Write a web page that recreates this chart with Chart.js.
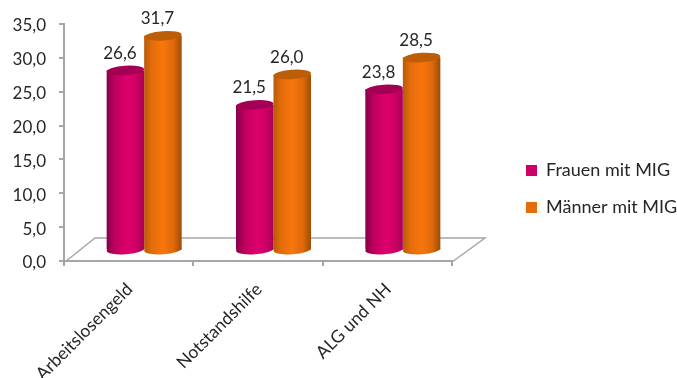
<!DOCTYPE html>
<html>
<head>
<meta charset="utf-8">
<style>
  html, body { margin: 0; padding: 0; background: #fff; overflow: hidden; }
  #box { width: 677px; height: 378px; position: relative; }
</style>
<script src="https://cdn.jsdelivr.net/npm/chart.js@4"></script>
</head>
<body>
<div id="box"><canvas id="chart"></canvas></div>
<script>
const categories = ['Arbeitslosengeld', 'Notstandshilfe', 'ALG und NH'];
const womenValues = [26.6, 21.5, 23.8];
const menValues = [31.7, 26.0, 28.5];
const seriesNames = ['Frauen mit MIG', 'Männer mit MIG'];
const yTicks = [0, 5, 10, 15, 20, 25, 30, 35];

const FONT = 'Lato, "Open Sans", sans-serif';
const TEXT = '#262626';
const AXIS = '#a6a6a6';

// Perspective offset of the columns relative to the axes
const DEPTH_X = 15.5;
const DEPTH_Y = -10.5;
const CAP_RY = 4.7;
const TILT = -0.07;

const germanNumber = v => v.toFixed(1).replace('.', ',');

const pinkStops = [[0, '#85004a'], [0.22, '#bf005f'], [0.55, '#de006c'], [0.8, '#cc0064'], [1, '#a80056']];
const orangeStops = [[0, '#b85a08'], [0.2, '#e46c0a'], [0.5, '#f7760c'], [0.78, '#e0690a'], [1, '#9c4d05']];
const bandStops = [pinkStops, orangeStops];
const capColours = ['#a30055', '#bd5e06'];

function sideGradient(ctx, el, stops) {
  const half = el.width / 2;
  const g = ctx.createLinearGradient(el.x - half, 0, el.x + half, 0);
  stops.forEach(s => g.addColorStop(s[0], s[1]));
  return g;
}

// Shifts the columns onto the floor, shades them and adds the elliptical ends
const cylinders = {
  id: 'cylinders',
  beforeDatasetsDraw(chart) {
    const { ctx } = chart;
    ctx.save();
    ctx.translate(DEPTH_X, DEPTH_Y);
    chart.data.datasets.forEach((ds, i) => {
      chart.getDatasetMeta(i).data.forEach(el => {
        const g = sideGradient(ctx, el, bandStops[i]);
        el.options = { ...el.options, backgroundColor: g };
        ctx.fillStyle = g;
        ctx.beginPath();
        ctx.ellipse(el.x, el.base, el.width / 2, CAP_RY, TILT, 0, Math.PI * 2);
        ctx.fill();
      });
    });
  },
  afterDatasetsDraw(chart) {
    const { ctx } = chart;
    chart.data.datasets.forEach((ds, i) => {
      chart.getDatasetMeta(i).data.forEach((el, j) => {
        ctx.fillStyle = capColours[i];
        ctx.beginPath();
        ctx.ellipse(el.x, el.y, el.width / 2, CAP_RY, TILT, 0, Math.PI * 2);
        ctx.fill();
        ctx.fillStyle = TEXT;
        ctx.font = '17px ' + FONT;
        ctx.textAlign = 'center';
        ctx.textBaseline = 'middle';
        ctx.fillText(germanNumber(ds.data[j]), el.x - 5.5, el.y - 17);
      });
    });
    ctx.restore();
  }
};

// Draws the floor parallelogram behind the columns
const floor = {
  id: 'floor',
  beforeDatasetsDraw(chart) {
    const { ctx, chartArea: a } = chart;
    const dx = 31, dy = -23;
    ctx.save();
    ctx.strokeStyle = AXIS;
    ctx.lineWidth = 1.5;
    ctx.beginPath();
    ctx.moveTo(a.left + 1, a.bottom + 1);
    ctx.lineTo(a.left + dx, a.bottom + dy);
    ctx.lineTo(a.right + dx + 2, a.bottom + dy);
    ctx.lineTo(a.right, a.bottom + 1);
    ctx.stroke();
    ctx.restore();
  }
};

new Chart(document.getElementById('chart'), {
  type: 'bar',
  data: {
    labels: categories,
    datasets: [
      { label: seriesNames[0], data: womenValues, backgroundColor: '#de006c', borderWidth: 0, xAxisID: 'x', yAxisID: 'y' },
      { label: seriesNames[1], data: menValues, backgroundColor: '#f7760c', borderWidth: 0, xAxisID: 'x', yAxisID: 'y' }
    ]
  },
  options: {
    responsive: true,
    maintainAspectRatio: false,
    animation: false,
    layout: { padding: 0 },
    datasets: { bar: { categoryPercentage: 0.58, barPercentage: 1 } },
    plugins: {
      tooltip: { enabled: false },
      legend: {
        position: 'right',
        maxWidth: 170,
        labels: {
          boxWidth: 11,
          boxHeight: 11,
          padding: 19,
          color: TEXT,
          font: { family: FONT, size: 18 },
          generateLabels() {
            return seriesNames.map((name, i) => ({
              text: name,
              fillStyle: i === 0 ? '#cc0066' : '#e46c0a',
              strokeStyle: 'transparent',
              lineWidth: 0,
              datasetIndex: i,
              fontColor: TEXT
            }));
          }
        }
      }
    },
    scales: {
      x: {
        offset: true,
        border: { color: AXIS, width: 2 },
        grid: { drawOnChartArea: false, color: AXIS, lineWidth: 2, tickLength: 5, offset: true },
        ticks: {
          color: TEXT,
          font: { family: FONT, size: 17.5 },
          minRotation: 45,
          maxRotation: 45,
          padding: 13,
          labelOffset: 1,
          autoSkip: false
        },
        afterFit(scale) { scale.height = 117; }
      },
      y: {
        min: 0,
        max: 35,
        border: { color: AXIS, width: 2 },
        grid: { drawOnChartArea: false, color: AXIS, lineWidth: 2, tickLength: 5 },
        afterBuildTicks(scale) { scale.ticks = yTicks.map(v => ({ value: v })); },
        ticks: {
          color: TEXT,
          font: { family: FONT, size: 17 },
          padding: 13,
          labelOffset: 2,
          callback: v => germanNumber(v)
        },
        afterFit(scale) { scale.width = 64; }
      },
      // Empty spacer between the plot and the legend
      gap: {
        type: 'linear',
        axis: 'y',
        position: 'right',
        border: { display: false },
        grid: { display: false },
        ticks: { display: false },
        afterFit(scale) { scale.width = 55; }
      },
      // Empty spacer above the plot
      headroom: {
        type: 'linear',
        axis: 'x',
        position: 'top',
        border: { display: false },
        grid: { display: false },
        ticks: { display: false },
        afterFit(scale) { scale.height = 24; }
      }
    }
  },
  plugins: [floor, cylinders]
});
</script>
</body>
</html>
